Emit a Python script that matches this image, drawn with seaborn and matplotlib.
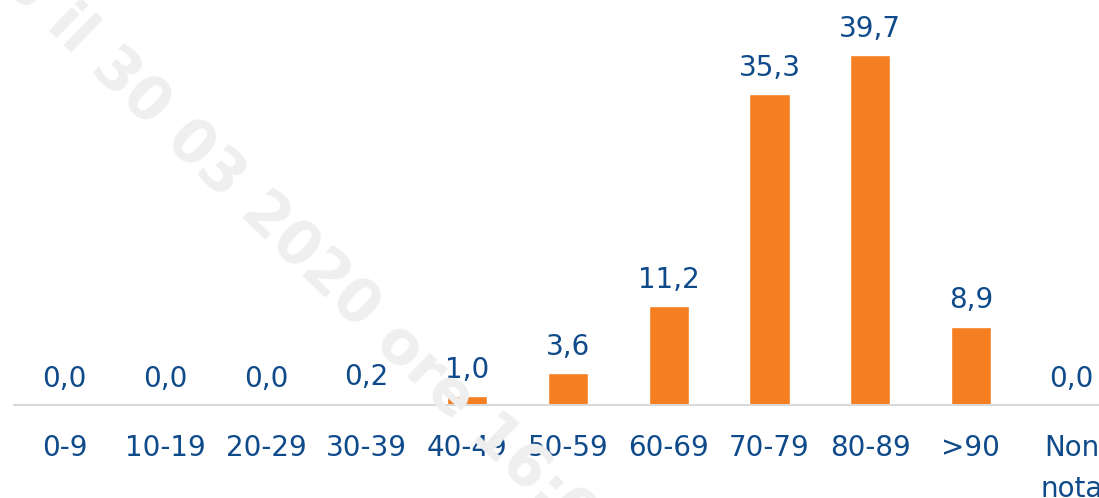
import numpy as np
import pandas as pd
import matplotlib
matplotlib.use("Agg")
import matplotlib.pyplot as plt
import seaborn as sns

# ── data ────────────────────────────────────────────────────────────────
age_groups = ["0-9", "10-19", "20-29", "30-39", "40-49", "50-59",
              "60-69", "70-79", "80-89", ">90", "Non\nnota"]
percent = [0.0, 0.0, 0.0, 0.2, 1.0, 3.6, 11.2, 35.3, 39.7, 8.9, 0.0]

BAR = "#F47E20"
TEXT = "#0F4A8A"
LINE = "#D9D9D9"


def main():
    sns.set_theme(style="white")
    plt.rcParams["font.family"] = ["DejaVu Sans"]

    df = pd.DataFrame({"age": age_groups, "pct": percent})

    W, H = 1099, 498
    fig = plt.figure(figsize=(W / 100, H / 100), dpi=100)

    # diagonal watermark behind the chart
    fig.text(-35 / W, 1 + 73 / H, "ISS il 30 03 2020 ore 16:00",
             rotation=-44, rotation_mode="anchor", ha="left", va="center",
             fontsize=43, fontweight="bold", color="#EFEFEF", zorder=0)

    # axes extends slightly past the right edge (last label is cut off)
    base_px = 405
    step = 100.7
    left_px = 64.5 - step / 2
    ymax = 45
    px_per_unit = 350 / 39.7
    ax = fig.add_axes([left_px / W, (H - base_px) / H,
                       11 * step / W, ymax * px_per_unit / H])
    ax.patch.set_alpha(0)

    sns.barplot(data=df, x="age", y="pct", color=BAR, width=0.4,
                saturation=1, ax=ax)

    for i, v in enumerate(df["pct"]):
        ax.annotate(f"{v:.1f}".replace(".", ","), (i, v),
                    xytext=(0, 13), textcoords="offset points",
                    ha="center", va="baseline", fontsize=20, color=TEXT)

    ax.set_xlim(-0.5, len(age_groups) - 0.5)
    ax.set_ylim(0, ymax)
    ax.set(xlabel="", ylabel="")
    ax.set_yticks([])
    ax.tick_params(axis="x", length=0, pad=21, labelsize=20, labelcolor=TEXT)
    for t in ax.get_xticklabels():
        t.set_linespacing(1.6)
    for s in ["top", "right", "left"]:
        ax.spines[s].set_visible(False)
    ax.spines["bottom"].set_color(LINE)
    ax.spines["bottom"].set_linewidth(1.5)

    fig.savefig("out.png", dpi=100)
    plt.close(fig)


if __name__ == "__main__":
    main()
